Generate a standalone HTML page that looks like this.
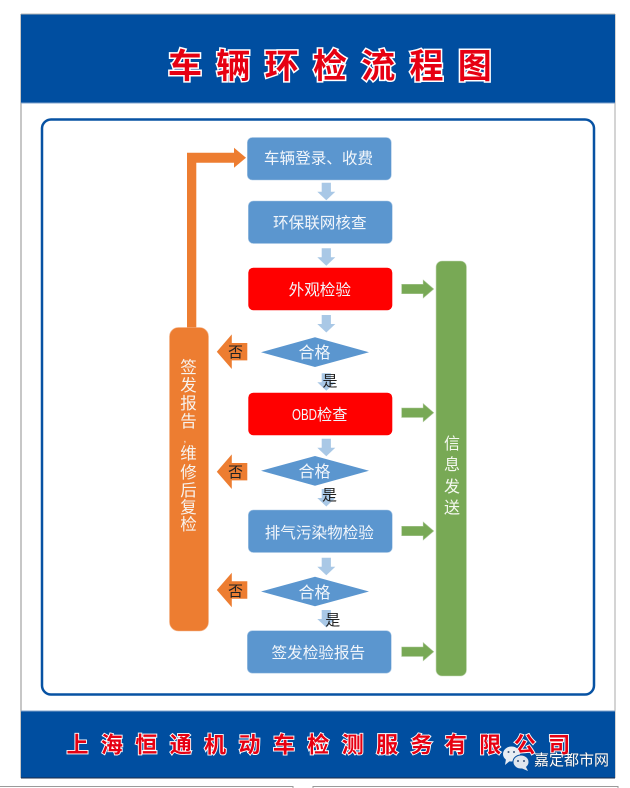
<!DOCTYPE html>
<html lang="zh">
<head>
<meta charset="utf-8">
<style>
html,body{margin:0;padding:0;background:#fff;width:630px;height:788px;overflow:hidden}
svg{display:block}
text{font-family:"Liberation Sans","Noto Sans CJK SC",sans-serif}
.t{fill:#f2f6fb;font-size:15.6px;text-anchor:middle}
.d{fill:#f2f6fb;font-size:16px;text-anchor:middle}
.k{fill:#222;font-size:15px;text-anchor:middle}
.v{fill:#f7f3ee;font-size:16.5px;text-anchor:middle}
.g{fill:#f4f8f0;font-size:16px;text-anchor:middle}
.h{font-weight:700;fill:#e60012;stroke:#fff;paint-order:stroke;stroke-linejoin:miter}
</style>
</head>
<body>
<svg width="630" height="788" viewBox="0 0 630 788" xmlns="http://www.w3.org/2000/svg">
<defs>
<g id="down"><polygon points="-4.6,0 4.6,0 4.6,9 9,9 0,17.5 -9,9 -4.6,9" fill="#a9c8e6"/></g>
<g id="right"><polygon points="0,-4.7 21.5,-4.7 21.5,-9 32,0 21.5,9 21.5,4.7 0,4.7" fill="#78a955" stroke="#a5c48f" stroke-width=".6"/></g>
<g id="left"><polygon points="0,0 15,-17.3 15,-8.7 30.5,-8.7 30.5,8.7 15,8.7 15,17.3" fill="#ed7d31"/></g>
</defs>

<!-- page frame -->
<rect x="21" y="14" width="594" height="764" fill="#fff"/>
<line x1="21" y1="14" x2="21" y2="778" stroke="#8f8f8f" stroke-width="1"/>
<line x1="615" y1="14" x2="615" y2="778" stroke="#a8a8a8" stroke-width="1"/>

<!-- header -->
<rect x="21" y="14" width="594" height="89" fill="#004ea0"/>
<line x1="21" y1="14" x2="615" y2="14" stroke="#b5b5b5"/>
<line x1="21" y1="103" x2="615" y2="103" stroke="#7fa3cc"/>
<text class="h" x="168" y="78" font-size="34" stroke-width="3" letter-spacing="14.3">车辆环检流程图</text>

<!-- content frame -->
<rect x="42" y="119.500" width="552" height="575" rx="9" fill="#fff" stroke="#0752a3" stroke-width="2.500"/>

<!-- footer -->
<rect x="21" y="711" width="594" height="67" fill="#004ea0"/>
<line x1="21" y1="711" x2="615" y2="711" stroke="#7fa3cc"/>
<line x1="21" y1="778" x2="615" y2="778" stroke="#1b2b48"/>
<text class="h" x="66.500" y="752.500" font-size="22" stroke-width="1.800" letter-spacing="12.4">上海恒通机动车检测服务有限公司</text>

<!-- orange return arrow -->
<polygon points="187,330 187,152.700 234,152.700 234,147.700 246,157.700 234,167.700 234,162.700 196.300,162.700 196.300,330" fill="#ed7d31"/>
<rect x="169.500" y="327.500" width="39" height="303.500" rx="9" fill="#ed7d31" stroke="#f3b48b" stroke-width=".6"/>
<text class="v" x="188.500" y="373">签</text>
<text class="v" x="188.500" y="391">发</text>
<text class="v" x="188.500" y="409">报</text>
<text class="v" x="188.500" y="427">告</text>
<text x="183.500" y="442" font-size="10" fill="#f7f3ee">,</text>
<text class="v" x="188.500" y="459">维</text>
<text class="v" x="188.500" y="478">修</text>
<text class="v" x="188.500" y="496">后</text>
<text class="v" x="188.500" y="513">复</text>
<text class="v" x="188.500" y="530">检</text>

<!-- green bar -->
<rect x="436" y="261" width="30.500" height="415" rx="6" fill="#78a955" stroke="#c6dab8" stroke-width=".6"/>
<text class="g" x="452" y="449">信</text>
<text class="g" x="452" y="470">息</text>
<text class="g" x="452" y="492">发</text>
<text class="g" x="452" y="513">送</text>

<!-- down arrows -->
<use href="#down" x="326.300" y="182.700"/>
<use href="#down" x="326.300" y="248.300"/>
<use href="#down" x="326.300" y="315"/>
<use href="#down" x="326.300" y="373.200"/>
<use href="#down" x="326.300" y="438.700"/>
<use href="#down" x="326.300" y="489"/>
<use href="#down" x="326.300" y="557.700"/>
<use href="#down" x="326.300" y="610"/>

<!-- boxes -->
<rect x="247.300" y="137.500" width="144" height="42.500" rx="5" fill="#5b96cf" stroke="#a9c8e6" stroke-width=".6"/>
<text class="t" x="318.500" y="163.500">车辆登录、收费</text>
<rect x="248.300" y="201" width="144" height="42.500" rx="5" fill="#5b96cf" stroke="#a9c8e6" stroke-width=".6"/>
<text class="t" x="319.800" y="228">环保联网核查</text>
<rect x="248.300" y="267.700" width="144" height="42.500" rx="5" fill="#ff0000"/>
<text class="t" x="319.800" y="295">外观检验</text>
<rect x="248.300" y="392.700" width="144" height="42.500" rx="5" fill="#ff0000"/>
<text x="292" y="420" font-size="15.5" fill="#f2f6fb" textLength="25" lengthAdjust="spacingAndGlyphs">OBD</text>
<text x="317" y="420" font-size="15.2" fill="#f2f6fb">检查</text>
<rect x="248.300" y="510" width="144" height="42.500" rx="5" fill="#5b96cf" stroke="#a9c8e6" stroke-width=".6"/>
<text class="t" x="319.300" y="538">排气污染物检验</text>
<rect x="247.300" y="630.700" width="144" height="42.500" rx="5" fill="#5b96cf" stroke="#a9c8e6" stroke-width=".6"/>
<text class="t" x="318.300" y="658">签发检验报告</text>

<!-- diamonds -->
<polygon points="261,352.200 315,337.300 369,352.200 315,367" fill="#5b96cf"/>
<text class="d" x="314.500" y="358">合格</text>
<polygon points="261,470.800 315,456 369,470.800 315,485.700" fill="#5b96cf"/>
<text class="d" x="314.500" y="477">合格</text>
<polygon points="261,591.500 315,576.700 369,591.500 315,606.300" fill="#5b96cf"/>
<text class="d" x="314.500" y="598">合格</text>

<!-- green arrows -->
<use href="#right" x="401.700" y="289"/>
<use href="#right" x="401.700" y="412.700"/>
<use href="#right" x="401.700" y="531"/>
<use href="#right" x="401.700" y="651.700"/>

<!-- no arrows -->
<use href="#left" x="216.800" y="351.700"/>
<use href="#left" x="216.800" y="471.700"/>
<use href="#left" x="216.800" y="590"/>
<text class="k" x="235.500" y="357">否</text>
<text class="k" x="235.500" y="477">否</text>
<text class="k" x="235.500" y="596">否</text>

<!-- yes labels -->
<text class="k" x="330" y="386">是</text>
<text class="k" x="329.500" y="500">是</text>
<text class="k" x="332.700" y="625">是</text>

<!-- watermark -->
<ellipse cx="511.500" cy="754" rx="8.500" ry="7.500" fill="#e8edf3"/>
<polygon points="506,759 505,765 511,760" fill="#e8edf3"/>
<ellipse cx="521" cy="762" rx="8" ry="7" fill="#dfe6ee" stroke="#004ea0" stroke-width="1"/>
<polygon points="526,767 528,771 521,768" fill="#dfe6ee"/>
<circle cx="508.500" cy="752" r="1" fill="#33517a"/>
<circle cx="514" cy="752" r="1" fill="#33517a"/>
<circle cx="518" cy="761" r="1" fill="#33517a"/>
<circle cx="524" cy="761" r="1" fill="#33517a"/>
<text x="534" y="765" font-size="15" fill="#fff" style="text-shadow:0 0 1px #333">嘉定都市网</text>

<!-- bottom strip -->
<path d="M0 786.500H293V788M313 788V786.500H618V788" fill="none" stroke="#9a9a9a" stroke-width="1"/>
</svg>
</body>
</html>
